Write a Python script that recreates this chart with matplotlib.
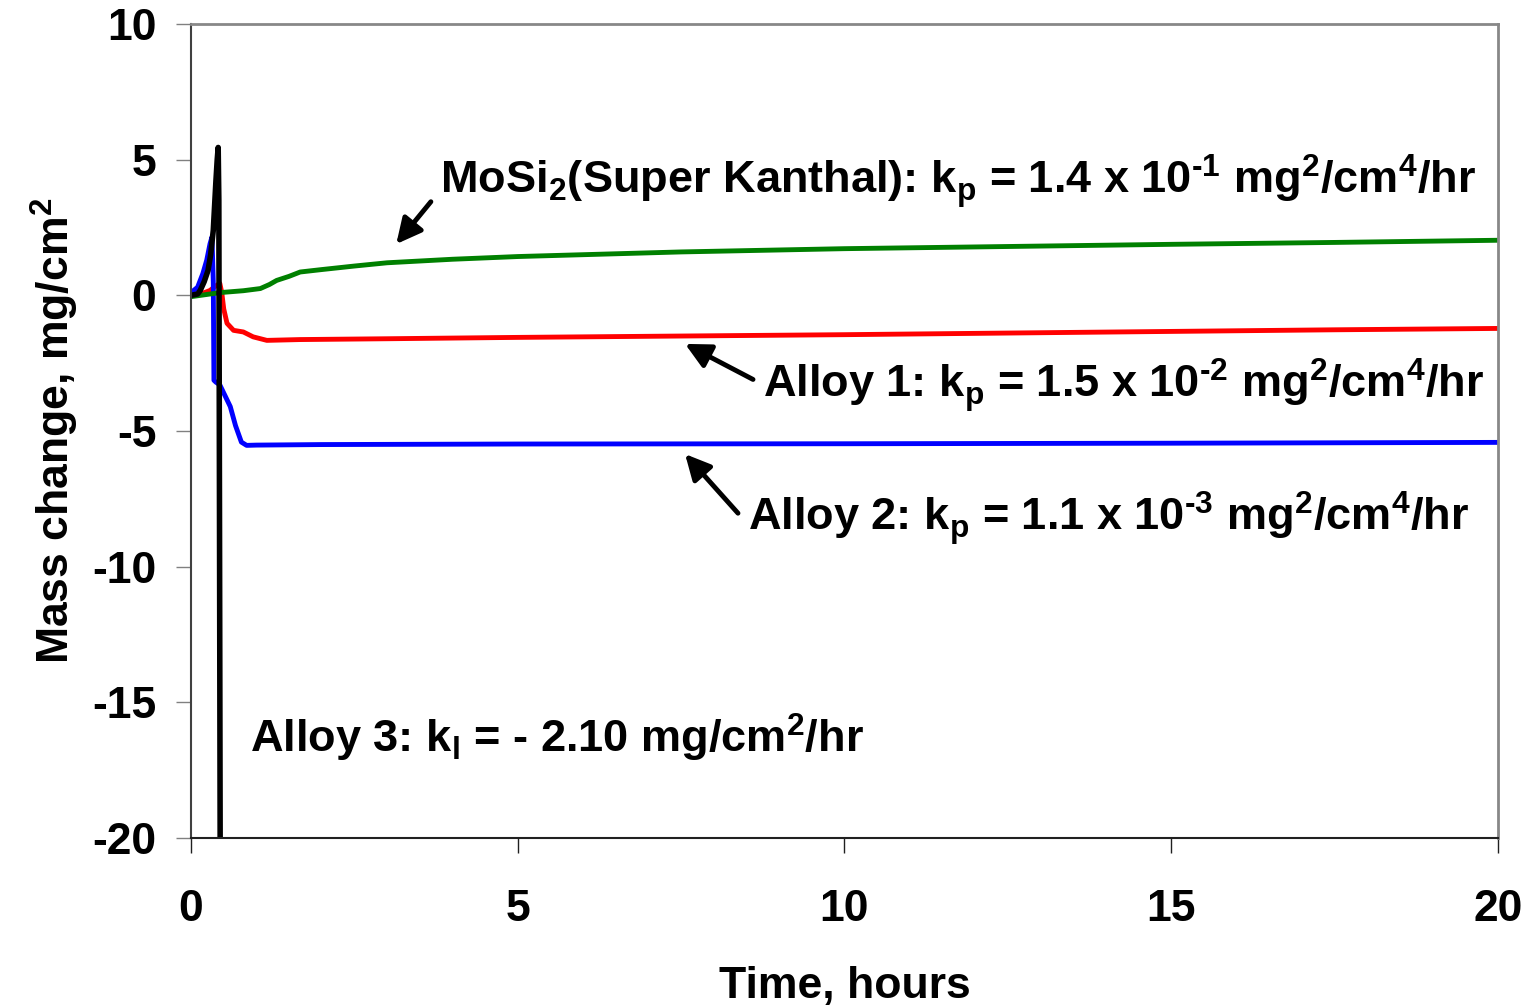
import matplotlib
matplotlib.use("Agg")
import matplotlib.pyplot as plt

# data (time in hours, mass change in mg/cm2)
t_alloy1 = [0, 0.15, 0.29, 0.38, 0.44, 0.47, 0.5, 0.55, 0.65, 0.8, 0.95, 1.16, 1.67, 3, 5, 7.5, 10, 12.5, 15, 17.5, 20]
m_alloy1 = [0.0, 0.05, 0.18, 0.35, 0.44, 0.1, -0.5, -1.03, -1.29, -1.35, -1.53, -1.66, -1.63, -1.6, -1.55, -1.5, -1.45, -1.39, -1.33, -1.27, -1.22]

t_alloy2 = [0, 0.1, 0.18, 0.24, 0.29, 0.32, 0.34, 0.35, 0.38, 0.44, 0.52, 0.6, 0.68, 0.77, 0.85, 1.0, 2, 5, 10, 15, 20]
m_alloy2 = [0.1, 0.3, 0.8, 1.3, 1.9, 2.15, 0.5, -3.13, -3.2, -3.3, -3.7, -4.1, -4.8, -5.41, -5.53, -5.52, -5.5, -5.48, -5.47, -5.45, -5.42]

t_mosi2 = [0, 0.44, 0.8, 1.06, 1.2, 1.31, 1.5, 1.67, 2, 2.5, 3, 4, 5, 7.5, 10, 12.5, 15, 17.5, 20]
m_mosi2 = [-0.05, 0.1, 0.17, 0.25, 0.4, 0.55, 0.7, 0.86, 0.95, 1.08, 1.2, 1.33, 1.43, 1.6, 1.72, 1.8, 1.88, 1.95, 2.03]

t_alloy3 = [0, 0.1, 0.14, 0.2, 0.26, 0.3, 0.34, 0.38, 0.40, 0.415, 0.425, 0.435, 0.445, 0.45]
m_alloy3 = [0.0, 0.05, 0.18, 0.5, 0.92, 1.5, 2.4, 4.2, 5.0, 5.45, 3.5, -8.0, -20.0, -22.0]

xticks = [0, 5, 10, 15, 20]
yticks = [-20, -15, -10, -5, 0, 5, 10]

plt.rcParams['font.family'] = ['Liberation Sans', 'DejaVu Sans']
plt.rcParams['font.weight'] = 'bold'
plt.rcParams['axes.unicode_minus'] = False
plt.rcParams['mathtext.fontset'] = 'custom'
plt.rcParams['mathtext.rm'] = 'Liberation Sans:bold'
plt.rcParams['mathtext.it'] = 'Liberation Sans:bold'
plt.rcParams['mathtext.bf'] = 'Liberation Sans:bold'
plt.rcParams['mathtext.default'] = 'rm'

fig = plt.figure(figsize=(15.31, 10.05), dpi=100)
ax = fig.add_axes([0.1248, 0.1662, 0.8536, 0.8099])

ax.plot(t_alloy1, m_alloy1, color='#ff0000', lw=3.5)
ax.plot(t_alloy2, m_alloy2, color='#0000ff', lw=3.5)
ax.plot(t_mosi2, m_mosi2, color='#008000', lw=3.5)
ax.plot(t_alloy3, m_alloy3, color='black', lw=4)

ax.set_xlim(0, 20)
ax.set_ylim(-20, 10)
ax.set_xticks(xticks)
ax.set_yticks(yticks)

ax.spines['top'].set_color('#888888')
ax.spines['right'].set_color('#888888')
ax.spines['top'].set_linewidth(2)
ax.spines['right'].set_linewidth(2)
ax.spines['left'].set_color('#404040')
ax.spines['left'].set_linewidth(1.5)
ax.spines['bottom'].set_color('#202020')
ax.spines['bottom'].set_linewidth(1.5)

ax.tick_params(axis='y', direction='out', length=11, width=1, color='#808080', pad=14, labelsize=32)
ax.tick_params(axis='x', direction='out', length=11, width=1, color='#202020', pad=26, labelsize=32)
for lab in ax.get_xticklabels() + ax.get_yticklabels():
    lab.set_fontweight('bold')

ax.set_xlabel('Time, hours', fontsize=32, fontweight='bold', labelpad=26)
ax.set_ylabel(r'Mass change, mg/cm$^2$', fontsize=32, fontweight='bold', labelpad=8)

fs = 32.5
ax.text(3.81, 3.77, r'MoSi$_2$(Super Kanthal): k$_p$ = 1.4 x 10$^{\text{-}1}$ mg$^2$/cm$^4$/hr',
        fontsize=fs, ha='left', va='baseline')
ax.text(8.75, -3.78, r'Alloy 1: k$_p$ = 1.5 x 10$^{\text{-}2}$ mg$^2$/cm$^4$/hr',
        fontsize=fs, ha='left', va='baseline')
ax.text(8.52, -8.65, r'Alloy 2: k$_p$ = 1.1 x 10$^{\text{-}3}$ mg$^2$/cm$^4$/hr',
        fontsize=fs, ha='left', va='baseline')
ax.text(0.90, -16.87, r'Alloy 3: k$_l$ = - 2.10 mg/cm$^2$/hr',
        fontsize=fs, ha='left', va='baseline')

arrow = dict(arrowstyle='-|>', mutation_scale=38, lw=3.5, color='black', shrinkA=0, shrinkB=0)
ax.annotate('', xy=(3.14, 1.89), xytext=(3.67, 3.45), arrowprops=arrow)
ax.annotate('', xy=(7.56, -1.79), xytext=(8.6, -3.1), arrowprops=arrow)
ax.annotate('', xy=(7.56, -5.85), xytext=(8.37, -8.03), arrowprops=arrow)

fig.savefig('out.png', dpi=100)
